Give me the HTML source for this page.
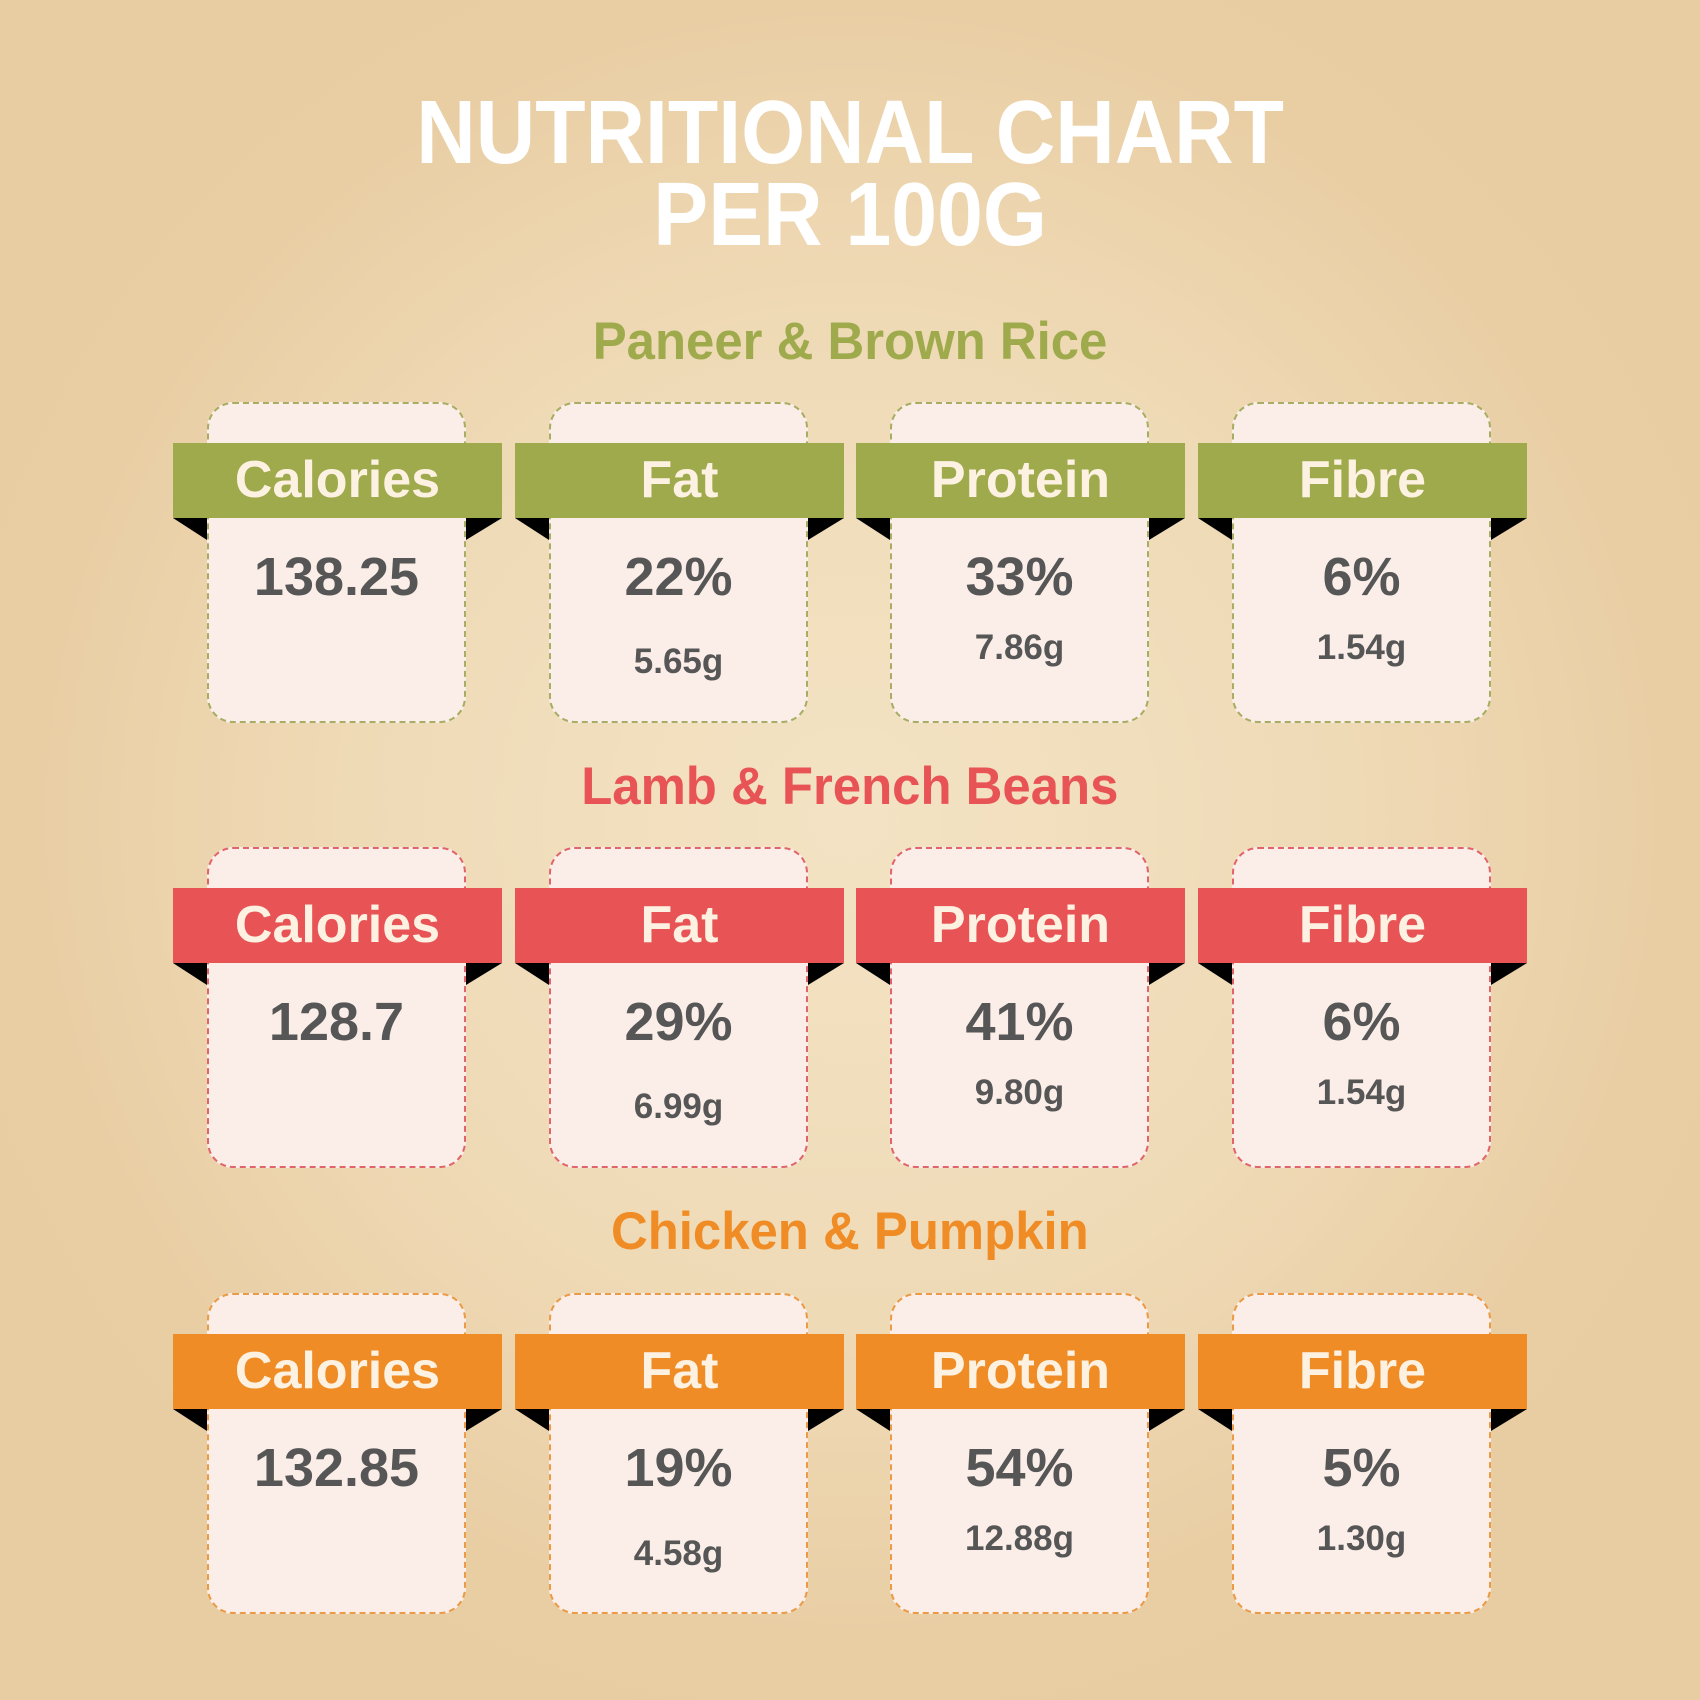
<!DOCTYPE html>
<html><head><meta charset="utf-8"><style>
*{margin:0;padding:0;box-sizing:border-box}
body{width:1700px;height:1700px;overflow:hidden;position:relative;font-family:"Liberation Sans",sans-serif;
background:radial-gradient(circle at 850px 820px,#f3e3c4 0px,#efdab6 500px,#e9cea4 820px,#e8cca2 1000px)}
.t{position:absolute;left:0;width:1700px;text-align:center;font-weight:bold;white-space:nowrap}
.t span{display:inline-block}
.box{position:absolute;width:259px;height:321px;border:2px dashed;border-radius:26px;background:#fbeee8}
.ban{position:absolute;width:329px;height:75px;color:#fdf1e2;font-weight:bold;font-size:52px;line-height:75px;text-align:center}
.v{position:absolute;width:259px;text-align:center;font-weight:bold;color:#565656;white-space:nowrap}
.big{font-size:54px;line-height:60px}
.sm{font-size:35px;line-height:40px}
</style></head><body>
<div class="t" style="top:88px;font-size:90px;line-height:90px;color:#fff"><span style="transform:scaleX(0.915)">NUTRITIONAL CHART</span></div>
<div class="t" style="top:170px;font-size:90px;line-height:90px;color:#fff"><span style="transform:scaleX(0.915)">PER 100G</span></div>
<div class="t" style="top:312px;font-size:53px;line-height:60px;color:#9eaa4b"><span style="transform:scaleX(0.96)">Paneer &amp; Brown Rice</span></div>
<div class="t" style="top:757px;font-size:53px;line-height:60px;color:#e85456"><span style="transform:scaleX(0.96)">Lamb &amp; French Beans</span></div>
<div class="t" style="top:1202px;font-size:53px;line-height:60px;color:#f08c25"><span style="transform:scaleX(0.96)">Chicken &amp; Pumpkin</span></div>

<svg width="1700" height="1700" style="position:absolute;left:0;top:0">
<g fill="#000">
<polygon points="173,518 207,518 207,540"/><polygon points="466,518 502,518 466,540"/>
<polygon points="515,518 549,518 549,540"/><polygon points="808,518 844,518 808,540"/>
<polygon points="856,518 890,518 890,540"/><polygon points="1149,518 1185,518 1149,540"/>
<polygon points="1198,518 1232,518 1232,540"/><polygon points="1491,518 1527,518 1491,540"/>
<polygon points="173,963 207,963 207,985"/><polygon points="466,963 502,963 466,985"/>
<polygon points="515,963 549,963 549,985"/><polygon points="808,963 844,963 808,985"/>
<polygon points="856,963 890,963 890,985"/><polygon points="1149,963 1185,963 1149,985"/>
<polygon points="1198,963 1232,963 1232,985"/><polygon points="1491,963 1527,963 1491,985"/>
<polygon points="173,1409 207,1409 207,1431"/><polygon points="466,1409 502,1409 466,1431"/>
<polygon points="515,1409 549,1409 549,1431"/><polygon points="808,1409 844,1409 808,1431"/>
<polygon points="856,1409 890,1409 890,1431"/><polygon points="1149,1409 1185,1409 1149,1431"/>
<polygon points="1198,1409 1232,1409 1232,1431"/><polygon points="1491,1409 1527,1409 1491,1431"/>
</g></svg>

<div class="box" style="left:207px;top:402px;border-color:#a7ad62"></div>
<div class="box" style="left:549px;top:402px;border-color:#a7ad62"></div>
<div class="box" style="left:890px;top:402px;border-color:#a7ad62"></div>
<div class="box" style="left:1232px;top:402px;border-color:#a7ad62"></div>
<div class="ban" style="left:173px;top:443px;background:#9eaa4b">Calories</div>
<div class="ban" style="left:515px;top:443px;background:#9eaa4b">Fat</div>
<div class="ban" style="left:856px;top:443px;background:#9eaa4b">Protein</div>
<div class="ban" style="left:1198px;top:443px;background:#9eaa4b">Fibre</div>
<div class="v big" style="left:207px;top:547px">138.25</div>
<div class="v big" style="left:549px;top:547px">22%</div>
<div class="v big" style="left:890px;top:547px">33%</div>
<div class="v big" style="left:1232px;top:547px">6%</div>
<div class="v sm" style="left:549px;top:642px">5.65g</div>
<div class="v sm" style="left:890px;top:628px">7.86g</div>
<div class="v sm" style="left:1232px;top:628px">1.54g</div>

<div class="box" style="left:207px;top:847px;border-color:#e0656a"></div>
<div class="box" style="left:549px;top:847px;border-color:#e0656a"></div>
<div class="box" style="left:890px;top:847px;border-color:#e0656a"></div>
<div class="box" style="left:1232px;top:847px;border-color:#e0656a"></div>
<div class="ban" style="left:173px;top:888px;background:#e85456">Calories</div>
<div class="ban" style="left:515px;top:888px;background:#e85456">Fat</div>
<div class="ban" style="left:856px;top:888px;background:#e85456">Protein</div>
<div class="ban" style="left:1198px;top:888px;background:#e85456">Fibre</div>
<div class="v big" style="left:207px;top:992px">128.7</div>
<div class="v big" style="left:549px;top:992px">29%</div>
<div class="v big" style="left:890px;top:992px">41%</div>
<div class="v big" style="left:1232px;top:992px">6%</div>
<div class="v sm" style="left:549px;top:1087px">6.99g</div>
<div class="v sm" style="left:890px;top:1073px">9.80g</div>
<div class="v sm" style="left:1232px;top:1073px">1.54g</div>

<div class="box" style="left:207px;top:1293px;border-color:#eb9a45"></div>
<div class="box" style="left:549px;top:1293px;border-color:#eb9a45"></div>
<div class="box" style="left:890px;top:1293px;border-color:#eb9a45"></div>
<div class="box" style="left:1232px;top:1293px;border-color:#eb9a45"></div>
<div class="ban" style="left:173px;top:1334px;background:#f08c25">Calories</div>
<div class="ban" style="left:515px;top:1334px;background:#f08c25">Fat</div>
<div class="ban" style="left:856px;top:1334px;background:#f08c25">Protein</div>
<div class="ban" style="left:1198px;top:1334px;background:#f08c25">Fibre</div>
<div class="v big" style="left:207px;top:1438px">132.85</div>
<div class="v big" style="left:549px;top:1438px">19%</div>
<div class="v big" style="left:890px;top:1438px">54%</div>
<div class="v big" style="left:1232px;top:1438px">5%</div>
<div class="v sm" style="left:549px;top:1534px">4.58g</div>
<div class="v sm" style="left:890px;top:1519px">12.88g</div>
<div class="v sm" style="left:1232px;top:1519px">1.30g</div>
</body></html>
